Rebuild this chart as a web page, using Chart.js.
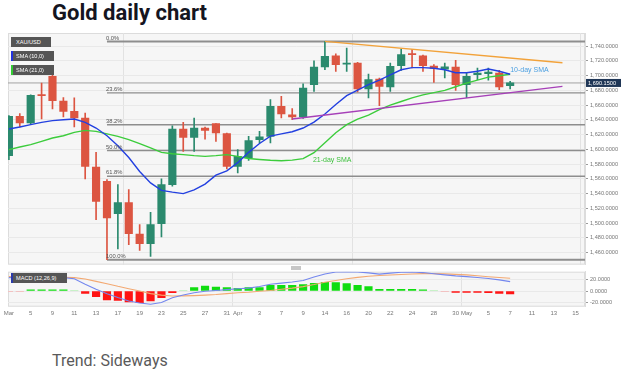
<!DOCTYPE html>
<html><head><meta charset="utf-8">
<script src="https://cdn.jsdelivr.net/npm/chart.js@4.4.1/dist/chart.umd.min.js"></script>
<style>
html,body{margin:0;padding:0;background:#fff;}
body{width:628px;height:379px;overflow:hidden;position:relative;font-family:Roboto,Arial,sans-serif;}
#title{position:absolute;left:52px;top:2px;font-weight:bold;font-size:22px;line-height:22px;color:#15151f;white-space:nowrap;}
#trend{position:absolute;left:52px;top:353px;font-size:16px;line-height:16px;color:#5a5a5a;white-space:nowrap;}
.tag{position:absolute;left:11px;height:10px;line-height:10px;background:#555;color:#fff;font-family:Arial,'Liberation Sans',sans-serif;font-size:5.6px;padding-left:5px;box-sizing:border-box;white-space:nowrap;}
#cMain{position:absolute;left:0;top:0;}
#cMacd{position:absolute;left:0;top:262px;}
#handle{position:absolute;left:291px;top:266px;width:10px;height:4px;background:#c6c6c6;}
</style>
</head><body>
<div id="title">Gold daily chart</div>
<canvas id="cMain" width="628" height="270"></canvas>
<canvas id="cMacd" width="628" height="60"></canvas>
<div class="tag" style="top:37px;width:40px;">XAU/USD</div>
<div class="tag" style="top:51px;width:43px;border-left:2px solid #2233dd;padding-left:3px;">SMA (10,0)</div>
<div class="tag" style="top:65px;width:43px;border-left:2px solid #33cc33;padding-left:3px;">SMA (21,0)</div>
<div class="tag" style="top:273px;width:56px;border-left:2px solid #2a3aa8;padding-left:3px;">MACD (12,26,9)</div>
<div id="handle"></div>
<div id="trend">Trend: Sideways</div>
<script>
// ---------- DATA ----------
const days = ['03-03','03-04','03-05','03-06','03-09','03-10','03-11','03-12','03-13','03-16','03-17','03-18','03-19','03-20','03-23','03-24','03-25','03-26','03-27','03-30','03-31','04-01','04-02','04-03','04-06','04-07','04-08','04-09','04-13','04-14','04-15','04-16','04-17','04-20','04-21','04-22','04-23','04-24','04-27','04-28','04-29','04-30','05-01','05-04','05-05','05-06','05-07','05-08','05-11','05-12','05-13','05-14','05-15'];
const opens  = [1591.5,1644.8,1635.8,1673.8,1699,1665.7,1651.6,1642.6,1576.2,1556.7,1512.9,1528,1485.3,1472.2,1499.3,1552.2,1627.7,1616.3,1629,1634.9,1621.4,1577,1588.4,1613.2,1617.7,1658.4,1647,1644,1687.8,1711.8,1727.1,1715.5,1717.2,1682,1695.5,1684.7,1713.6,1729.8,1727.1,1713,1709,1711.8,1687.8,1701.5,1702.7,1703.7,1686.4];
const highs  = [1646,1648.5,1674,1690,1703.7,1670.2,1669.8,1649.4,1596,1559,1552.2,1545.4,1498,1514.6,1560,1632,1636.7,1642.6,1630.4,1634.9,1622,1599.7,1617.7,1624.5,1667.5,1672,1655.3,1689,1720.3,1746.5,1729.8,1737.6,1718,1702.3,1696.9,1717.2,1736.2,1735.3,1728,1715,1717,1720.7,1704.5,1710.4,1710.4,1707.2,1692.3];
const lows   = [1586,1630.4,1634,1641.3,1655,1644,1630.4,1560,1504.7,1450.5,1465,1470.8,1463,1455,1481.3,1550,1597.4,1597.4,1614,1611,1573.5,1568,1585,1608.7,1608.7,1642.6,1640.3,1642,1678.7,1708.1,1705.8,1705.8,1678,1669.8,1659.3,1678.7,1707.2,1710.4,1705.8,1691,1697,1680,1670.2,1694.6,1694,1681,1682];
const closes = [1644.8,1635.8,1673.3,1672.8,1666,1651.6,1642.6,1577,1529.6,1507,1528,1485.8,1472.2,1498,1552.2,1627.7,1616.3,1629,1625.8,1622.3,1577,1590.6,1611.9,1616.9,1658.4,1648.1,1644,1683.3,1711.8,1726.2,1715,1716.8,1682,1694.6,1685.5,1712.6,1728.5,1728.5,1713.6,1710,1712,1687.8,1699,1703.5,1705,1684.7,1690.15];
const sma10  = [1627.7,1630.4,1633.6,1636.7,1639,1640.3,1641.3,1636.7,1629,1618.6,1605,1589,1570,1554.5,1544.5,1542,1540,1545,1553,1565,1571,1582,1596,1608,1618,1621,1624,1629,1637,1648,1661,1673,1680.5,1688,1694,1701,1708,1711,1711,1710,1708,1704,1704,1706,1709,1706,1702];
const sma21  = [1599.7,1603.3,1606.4,1610.9,1615.5,1618.6,1623.1,1625.8,1624.5,1621,1617.7,1613.2,1607.8,1602,1596,1594.2,1592.9,1591.5,1590.6,1591.5,1592.9,1590.6,1587.7,1586.4,1585.2,1584.7,1585.4,1587.5,1595.6,1609,1622.7,1633.6,1641,1646.5,1654,1660,1665,1670,1674,1677,1680,1685,1690,1694,1698,1700,1702];
const macdLine   = [22.9,22.9,22.9,22.9,22.9,22.9,21,11.5,3,-4.5,-11,-17,-20.5,-22.7,-19.5,-11.6,-6.8,-3,-0.5,1,2.3,3.8,5,7.8,11.5,13.5,15.3,18,24,29,32.5,33,32.5,31,28.8,30.5,32,32.5,31.5,29.5,27.5,25.8,24.6,23,21.5,19,16];
const signalLine = [24.6,24.4,24.2,24,23.7,23.4,22.9,20.5,16.5,12.5,8,4,0,-4.5,-7,-8.5,-8.3,-7.8,-7,-6,-4.5,-3,-2,-0.5,1,3,5,7.5,11,15,18,21,23.3,25.3,26.5,27.3,28.3,29,29.7,29.7,29.2,28.5,27.5,26,24.5,23,21.7];
const histogram  = [-1.2,-1,2,2,2,2,0.8,-4,-9.6,-15.4,-16,-18.8,-19.9,-17,-11.4,-2.8,0.8,5.8,8.5,6.8,5.8,4.6,5.8,5.8,9.7,9.7,9.7,11,13.2,15,14.4,12.6,9.7,7.4,3,3,3,3,2,1,-1,-2.5,-2.5,-2.5,-3,-4,-5];
const xTickDays   = ['03-03','03-05','03-09','03-11','03-13','03-17','03-19','03-23','03-25','03-27','03-31','04-01','04-03','04-07','04-09','04-14','04-16','04-20','04-22','04-24','04-28','04-30','05-01','05-05','05-07','05-11','05-13','05-15'];
const xTickLabels = ['Mar','5','9','11','13','17','19','23','25','27','31','Apr','3','7','9','14','16','20','22','24','28','30','May','5','7','11','13','15'];
const monthStartLabels = ['Apr','May'];
const priceTicks = [1460,1480,1500,1520,1540,1560,1580,1600,1620,1640,1660,1680,1700,1720,1740];
const macdTicks = [-20,0,20];
const currentPrice = 1690.15;
const fibRatios = [0,0.236,0.382,0.5,0.618,1];
const fibLabels = ['0.0%','23.6%','38.2%','50.0%','61.8%','100.0%'];
const fibLowDay = '03-16', fibLow = 1450.5, fibHigh = 1746.5;
const resistX = [29,50.8], resistY = [1746.5,1717.6];
const supportX = [26,50.8], supportY = [1641.3,1685.5];
const smaLabels = ['10-day SMA','21-day SMA'];
const smaLabelX = [46,27.9], smaLabelY = [1707,1585.2];

// ---------- SETUP ----------
const xMin = -0.083, xMax = 52.87;
const idx = closes.map((_, i) => i);
const dayIdx = d => days.indexOf(d);
const xTickIdx = xTickDays.map(dayIdx);
const monthIdx = xTickLabels.map((l, i) => monthStartLabels.includes(l) ? xTickIdx[i] : null).filter(v => v !== null);
const UP = '#2b8a6e', DN = '#dc5541';
const candleColors = idx.map(i => closes[i] >= opens[i] ? UP : DN);
const fmt = v => v.toLocaleString('en-US', {minimumFractionDigits: 4, maximumFractionDigits: 4});
const fibStart = dayIdx(fibLowDay);
const fibLevels = fibRatios.map(r => fibHigh - r * (fibHigh - fibLow));
const tickFont = {family: 'Arial, "Liberation Sans", sans-serif', size: 5.6};

const panelBg = {
  id: 'panelBg',
  beforeDraw(chart) {
    const {ctx, chartArea: a} = chart;
    ctx.save();
    ctx.fillStyle = '#f6f6f6';
    ctx.fillRect(a.left, a.top, a.right - a.left, a.bottom - a.top);
    ctx.strokeStyle = '#dcdcdc';
    ctx.lineWidth = 1;
    ctx.strokeRect(a.left + 0.5, a.top + 0.5, a.right - a.left - 1, a.bottom - a.top - 1);
    ctx.restore();
  }
};

const mainLabels = {
  id: 'mainLabels',
  afterDatasetsDraw(chart) {
    const {ctx, scales: {x, y}} = chart;
    ctx.save();
    ctx.font = '5.8px Arial, "Liberation Sans", sans-serif';
    ctx.fillStyle = '#555';
    ctx.textAlign = 'left';
    ctx.textBaseline = 'bottom';
    fibLevels.forEach((lv, i) => {
      ctx.fillText(fibLabels[i], x.getPixelForValue(fibStart) - 1, y.getPixelForValue(lv) - 0.5);
    });
    ctx.font = '7px Arial, "Liberation Sans", sans-serif';
    ctx.textBaseline = 'middle';
    const smaCols = ['#4b9fe0', '#3cbf3c'];
    smaLabels.forEach((t, i) => {
      ctx.fillStyle = smaCols[i];
      ctx.fillText(t, x.getPixelForValue(smaLabelX[i]), y.getPixelForValue(smaLabelY[i]));
    });
    // current price tag
    const py = y.getPixelForValue(currentPrice);
    ctx.fillStyle = '#1f3656';
    ctx.fillRect(x.right + 1, py - 4, 35, 8);
    ctx.fillStyle = '#fff';
    ctx.font = '5.6px Arial, "Liberation Sans", sans-serif';
    ctx.fillText(fmt(currentPrice), x.right + 3, py + 0.3);
    ctx.restore();
  }
};

const lineDs = (data, color, width, order) => ({type: 'line', data, borderColor: color, borderWidth: width, pointRadius: 0, tension: 0, clip: 0, order});

const mainDatasets = [
  lineDs([{x: xMin, y: currentPrice}, {x: xMax, y: currentPrice}], '#a3a3a3', 1, 20),
  ...fibLevels.map((lv, i) => lineDs([{x: fibStart, y: lv}, {x: xMax, y: lv}], '#8e8e8e', (i === 0 || i === fibLevels.length - 1) ? 2 : 1.4, 19)),
  {label: 'wicks', data: idx.map(i => ({x: i, y: [lows[i], highs[i]]})), backgroundColor: candleColors, barThickness: 1, grouped: false, clip: 0, order: 10},
  {label: 'bodies', data: idx.map(i => ({x: i, y: [opens[i], closes[i]]})), backgroundColor: candleColors, barThickness: 7.5, minBarLength: 1.2, grouped: false, clip: 0, order: 9},
  lineDs(idx.map(i => ({x: i, y: sma21[i]})), '#3ccc3c', 1.4, 4),
  lineDs(idx.map(i => ({x: i, y: sma10[i]})), '#2340e0', 1.4, 3),
  lineDs(resistX.map((v, i) => ({x: v, y: resistY[i]})), '#f2a23a', 1.4, 2),
  lineDs(supportX.map((v, i) => ({x: v, y: supportY[i]})), '#a640b8', 1.4, 2)
];

new Chart(document.getElementById('cMain'), {
  type: 'bar',
  data: {datasets: mainDatasets},
  options: {
    responsive: false, animation: false, events: [],
    plugins: {legend: {display: false}, tooltip: {enabled: false}},
    layout: {padding: {left: 8, top: 33, right: 0, bottom: 5}},
    scales: {
      x: {type: 'linear', min: xMin, max: xMax, offset: false,
        afterBuildTicks: s => { s.ticks = monthIdx.map(v => ({value: v})); },
        ticks: {display: false}, grid: {color: '#e2e2e2', drawTicks: false}, border: {display: false},
        afterFit: s => { s.height = 0; }},
      y: {position: 'right', min: 1443.7, max: 1757.9,
        afterBuildTicks: s => { s.ticks = priceTicks.map(v => ({value: v})); },
        ticks: {font: tickFont, color: '#777', padding: 2, callback: v => fmt(v)},
        grid: {color: '#e9e9e9', tickLength: 3, tickColor: '#9a9a9a'}, border: {color: '#dcdcdc'},
        afterFit: s => { s.width = 43; }}
    }
  },
  plugins: [panelBg, mainLabels]
});

const histColors = histogram.map(v => v >= 1.5 ? '#10dd10' : v >= 0 ? '#b9efb9' : v > -1.5 ? '#f5b4b4' : '#ff1414');

new Chart(document.getElementById('cMacd'), {
  type: 'bar',
  data: {datasets: [
    lineDs(idx.map(i => ({x: i, y: macdLine[i]})), '#7487ee', 1.1, 1),
    lineDs(idx.map(i => ({x: i, y: signalLine[i]})), '#f3a972', 1.1, 2),
    {label: 'hist', data: idx.map(i => ({x: i, y: histogram[i]})), backgroundColor: histColors, barThickness: 7.5, grouped: false, clip: 0, order: 5}
  ]},
  options: {
    responsive: false, animation: false, events: [],
    plugins: {legend: {display: false}, tooltip: {enabled: false}},
    layout: {padding: {left: 8, top: 9.7, right: 0, bottom: 0}},
    scales: {
      x: {type: 'linear', min: xMin, max: xMax, offset: false,
        afterBuildTicks: s => { s.ticks = xTickIdx.map(v => ({value: v})); },
        ticks: {font: {family: 'Arial, "Liberation Sans", sans-serif', size: 6}, color: '#777', padding: 3, maxRotation: 0, autoSkip: false,
          callback: (v, i) => xTickLabels[i]},
        grid: {color: c => (c.tick && monthIdx.includes(c.tick.value)) ? '#e2e2e2' : 'rgba(0,0,0,0)', drawTicks: false},
        border: {display: false},
        afterFit: s => { s.height = 15.3; }},
      y: {position: 'right', min: -26.8, max: 33,
        afterBuildTicks: s => { s.ticks = macdTicks.map(v => ({value: v})); },
        ticks: {font: tickFont, color: '#777', padding: 2, callback: v => fmt(v)},
        grid: {color: '#e9e9e9', tickLength: 3, tickColor: '#9a9a9a'}, border: {color: '#dcdcdc'},
        afterFit: s => { s.width = 43; }}
    }
  },
  plugins: [panelBg]
});
</script>
</body></html>
